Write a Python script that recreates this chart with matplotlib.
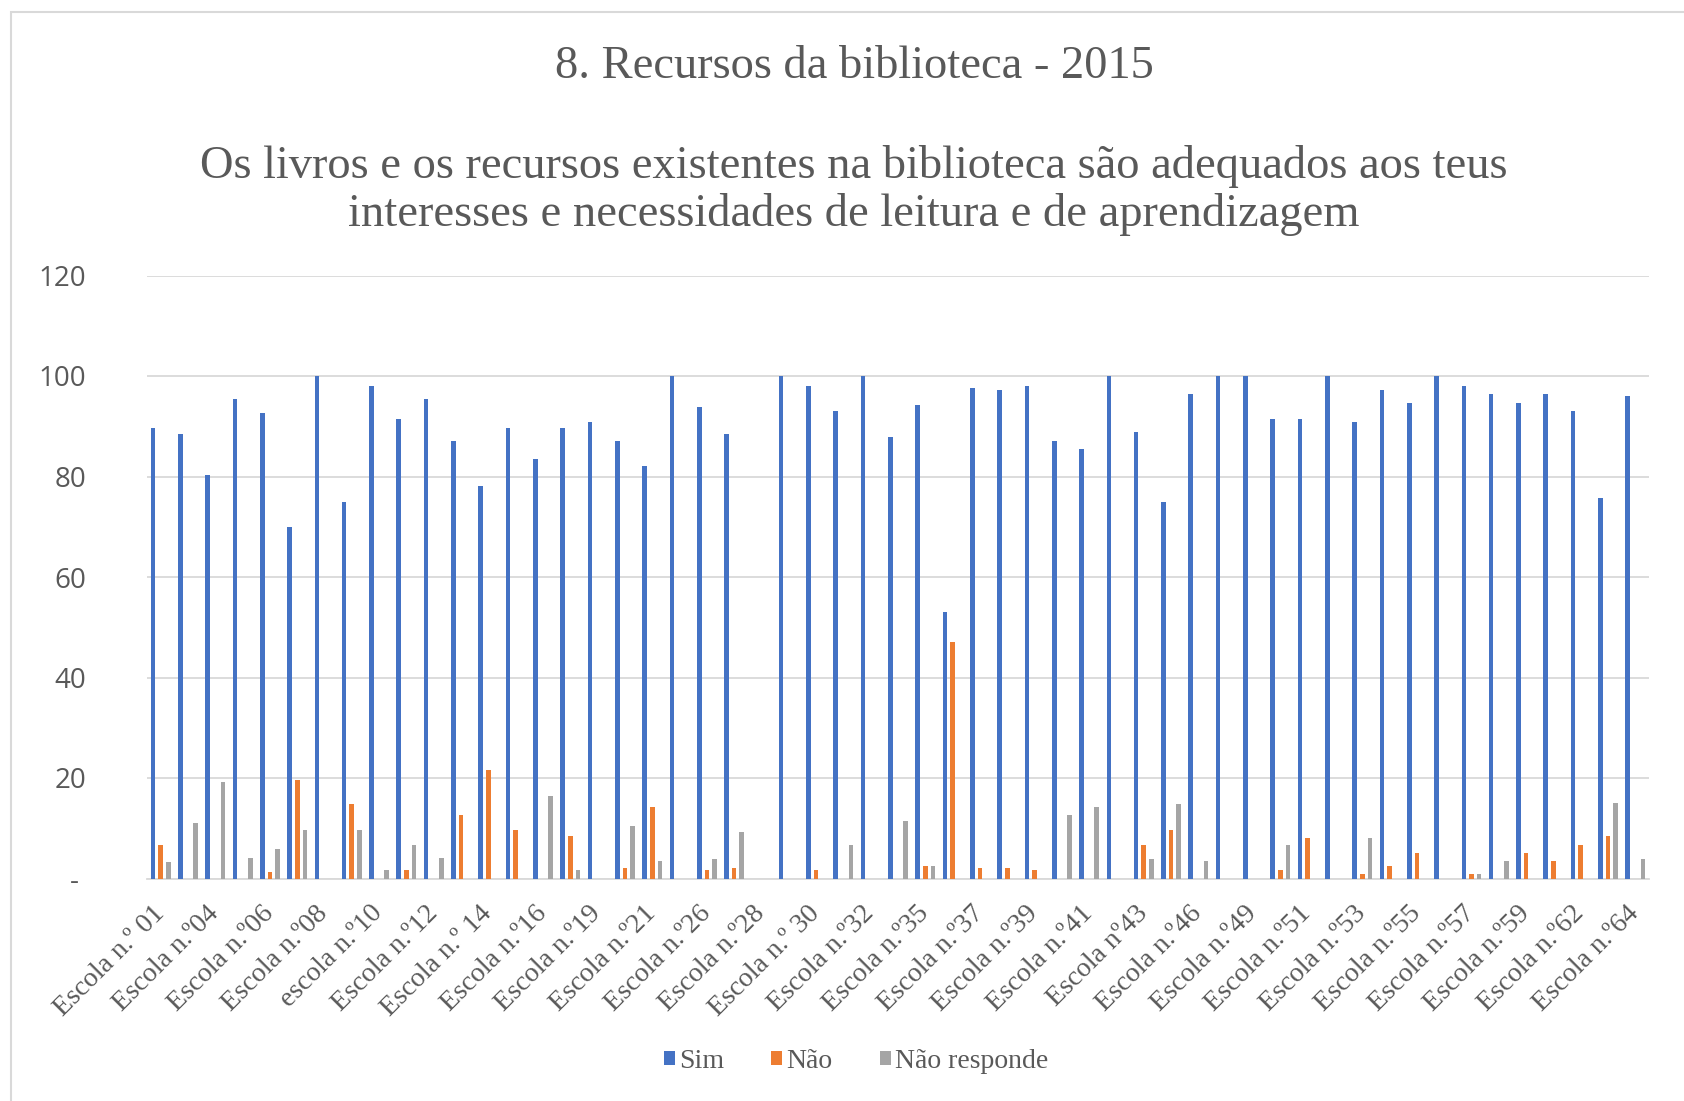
import numpy as np
import matplotlib
matplotlib.use("Agg")
import matplotlib.pyplot as plt
from matplotlib.patches import Patch, Rectangle
from matplotlib.transforms import ScaledTranslation

title = "8. Recursos da biblioteca - 2015"
subtitle_1 = "Os livros e os recursos existentes na biblioteca são adequados aos teus"
subtitle_2 = "interesses e necessidades de leitura e de aprendizagem"

series_names = ["Sim", "Não", "Não responde"]

tick_labels = [
    "Escola n.º 01", "Escola n.º04", "Escola n.º06", "Escola n.º08", "escola n.º10",
    "Escola n.º12", "Escola n.º 14", "Escola n.º16", "Escola n.º19", "Escola n.º21",
    "Escola n.º26", "Escola n.º28", "Escola n.º 30", "Escola n.º32", "Escola n.º35",
    "Escola n.º37", "Escola n.º39", "Escola n.º41", "Escola nº43", "Escola n.º46",
    "Escola n.º49", "Escola n.º51", "Escola n.º53", "Escola n.º55", "Escola n.º57",
    "Escola n.º59", "Escola n.º62", "Escola n.º64",
]

sim = [
    89.6, 88.4, 80.3, 95.5, 92.6, 69.9, 100, 74.9, 98.1, 91.4,
    95.5, 87.1, 78.2, 89.6, 83.4, 89.6, 90.9, 87.1, 82.0, 100,
    93.9, 88.4, 0, 100, 98.1, 93.0, 100, 87.9, 94.3, 53.0,
    97.6, 97.2, 98.1, 87.1, 85.5, 100, 88.8, 74.9, 96.4, 100,
    100, 91.4, 91.4, 100, 90.9, 97.2, 94.7, 100, 98.1, 96.4,
    94.7, 96.4, 93.0, 75.8, 96.0,
]
nao = [
    6.7, 0, 0, 0, 1.2, 19.7, 0, 14.8, 0, 1.7,
    0, 12.6, 21.5, 9.7, 0, 8.4, 0, 2.1, 14.3, 0,
    1.7, 2.1, 0, 0, 1.7, 0, 0, 0, 2.5, 47.0,
    2.1, 2.1, 1.7, 0, 0, 0, 6.7, 9.7, 0, 0,
    0, 1.7, 8.0, 0, 0.8, 2.5, 5.0, 0, 0.8, 0,
    5.0, 3.4, 6.7, 8.4, 0,
]
nao_responde = [
    3.3, 11.0, 19.3, 4.1, 5.9, 9.7, 0, 9.7, 1.7, 6.7,
    4.1, 0, 0, 0, 16.4, 1.7, 0, 10.5, 3.4, 0,
    3.8, 9.3, 0, 0, 0, 6.7, 0, 11.4, 2.5, 0,
    0, 0, 0, 12.6, 14.3, 0, 3.8, 14.8, 3.4, 0,
    0, 6.7, 0, 0, 8.0, 0, 0, 0, 0.8, 3.4,
    0, 0, 0, 15.1, 3.8,
]

y_ticks = [0, 20, 40, 60, 80, 100, 120]
y_tick_labels = ["- ", "20", "40", "60", "80", "100", "120"]

colors = ["#4472C4", "#ED7D31", "#A5A5A5"]
text_color = "#595959"
grid_color = "#D9D9D9"
serif = ["Liberation Serif", "DejaVu Serif"]
sans = ["Open Sans", "DejaVu Sans"]

fig = plt.figure(figsize=(16.84, 11.01), dpi=100)
fig.patch.set_facecolor("white")
fig.patches.append(Rectangle((11 / 1684, -0.2), 1.2, 1.2 - 12 / 1101,
                             transform=fig.transFigure, fill=False,
                             edgecolor="#D9D9D9", linewidth=1.5))

ax = fig.add_axes([147 / 1684, 1 - 878.5 / 1101, (1649 - 147) / 1684, (878.5 - 275.5) / 1101])

x = np.arange(len(sim))
w = 0.17
off = 0.28
for vals, dx, c, name in zip([sim, nao, nao_responde], [-off, 0, off], colors, series_names):
    ax.bar(x + dx, vals, width=w, color=c, label=name, zorder=3)

ax.set_xlim(-0.5, len(sim) - 0.5)
ax.set_ylim(0, 120)
ax.set_yticks(y_ticks)
ax.set_yticklabels(y_tick_labels, fontfamily=sans, fontsize=20, color=text_color)
ax.yaxis.grid(True, color=grid_color, linewidth=1.3, zorder=0)
ax.set_axisbelow(True)
ax.tick_params(axis="y", length=0, pad=44)
for s in ["top", "right", "left"]:
    ax.spines[s].set_visible(False)
ax.spines["bottom"].set_color(grid_color)
ax.spines["bottom"].set_linewidth(1.3)

ax.set_xticks(x[::2])
ax.set_xticklabels(tick_labels, rotation=45, ha="right", va="top",
                   rotation_mode="anchor", fontfamily=serif, fontsize=20,
                   color=text_color)
ax.tick_params(axis="x", length=0, pad=16)
shift = ScaledTranslation(-9 / 100, 0, fig.dpi_scale_trans)
for lbl in ax.get_xticklabels():
    lbl.set_transform(lbl.get_transform() + shift)

fig.text(854 / 1684, 1 - 67 / 1101, title, ha="center", va="center",
         fontfamily=serif, fontsize=33.5, color=text_color)
fig.text(854 / 1684, 1 - 166 / 1101, subtitle_1, ha="center", va="center",
         fontfamily=serif, fontsize=33.5, color=text_color)
fig.text(854 / 1684, 1 - 214 / 1101, subtitle_2, ha="center", va="center",
         fontfamily=serif, fontsize=33.5, color=text_color)

handles = [Patch(facecolor=c, label=n) for c, n in zip(colors, series_names)]
leg = fig.legend(handles=handles, loc="center", bbox_to_anchor=(856 / 1684, 1 - 1061 / 1101),
                 ncol=3, frameon=False, handlelength=0.4, handleheight=0.4,
                 handletextpad=0.15, columnspacing=1.7,
                 prop={"family": serif, "size": 20})
for t in leg.get_texts():
    t.set_color(text_color)

fig.savefig("out.png", dpi=100, facecolor="white")
